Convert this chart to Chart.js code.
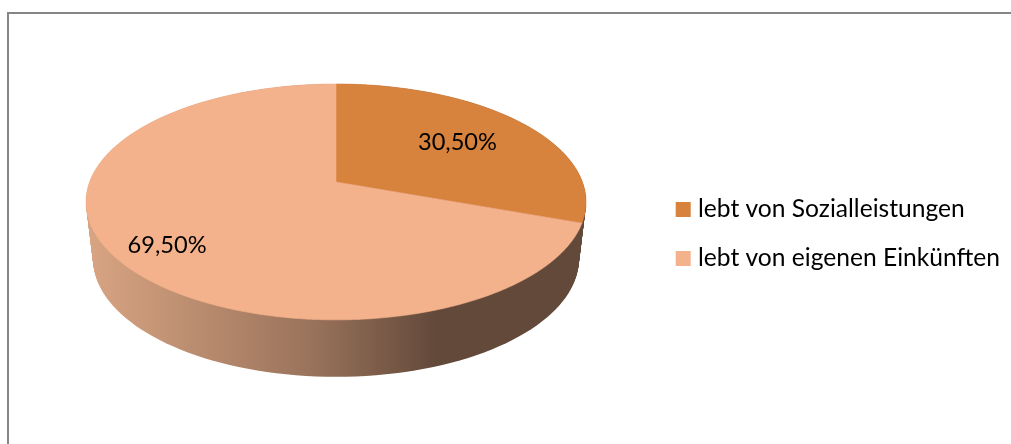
<!DOCTYPE html>
<html>
<head>
<meta charset="utf-8">
<script src="https://cdn.jsdelivr.net/npm/chart.js@4"></script>
<style>
    html, body { margin: 0; padding: 0; background: #fff; overflow: hidden; }
    #frame { position: absolute; left: 7px; top: 12px; right: -5px; bottom: -5px; border: 2px solid #868686; box-sizing: border-box; }
    canvas { position: absolute; left: 0; top: 0; }
</style>
</head>
<body>
<div id="frame"></div>
<canvas id="chart" width="1011" height="444"></canvas>
<script>
const categories = ['lebt von Sozialleistungen', 'lebt von eigenen Einkünften'];
const shares = [30.5, 69.5];
const sliceColors = ['#d7823d', '#f4b28c'];

// Perspective of the tilted disc: where a point of the unit circle lands on screen
const disc = { cx: 336, cy: 182, a: 246.4, b: 83.8, k: -0.169, depth: 57 };

function project(r, angle, shrink = 1, dy = 0) {
    const u = r * Math.cos(angle);
    const v = r * Math.sin(angle);
    const w = 1 + disc.k * v;
    return {
        x: disc.cx + shrink * disc.a * u / w,
        y: (disc.cy + disc.b * v) / w + dy
    };
}

const tiltedPie = {
    id: 'tiltedPie',
    beforeDatasetDraw(chart, args, opts) {
        const ctx = chart.ctx;
        const arcs = chart.getDatasetMeta(args.index).data;

        // Side wall: the rim swept downwards
        const side = ctx.createLinearGradient(86, 0, 586, 0);
        side.addColorStop(0, '#d9a583');
        side.addColorStop(0.45, '#9a735b');
        side.addColorStop(0.7, '#63493a');
        side.addColorStop(1, '#63493a');
        ctx.save();
        ctx.fillStyle = side;
        for (let d = disc.depth; d >= 0; d--) {
            const shrink = 1 - 0.028 * d / disc.depth;
            ctx.beginPath();
            for (let deg = 0; deg < 360; deg += 2) {
                const p = project(1, deg * Math.PI / 180, shrink, d);
                ctx.lineTo(p.x, p.y);
            }
            ctx.closePath();
            ctx.fill();
        }

        // Top face, one path per arc of the library
        arcs.forEach((arc, i) => {
            const steps = Math.ceil((arc.endAngle - arc.startAngle) / 0.01);
            const c = project(0, 0);
            ctx.beginPath();
            ctx.moveTo(c.x, c.y);
            for (let s = 0; s <= steps; s++) {
                const p = project(1, arc.startAngle + (arc.endAngle - arc.startAngle) * s / steps);
                ctx.lineTo(p.x, p.y);
            }
            ctx.closePath();
            ctx.fillStyle = sliceColors[i];
            ctx.strokeStyle = sliceColors[i];
            ctx.lineWidth = 0.6;
            ctx.fill();
            ctx.stroke();
        });

        // Value labels
        ctx.fillStyle = '#000';
        ctx.font = opts.font;
        ctx.textAlign = 'center';
        ctx.textBaseline = 'middle';
        arcs.forEach((arc, i) => {
            const [r, dy] = opts.labelPlaces[i];
            const p = project(r, (arc.startAngle + arc.endAngle) / 2, 1, dy);
            ctx.fillText(shares[i].toFixed(2).replace('.', ',') + '%', p.x, p.y);
        });
        ctx.restore();
        return false;
    }
};

new Chart(document.getElementById('chart'), {
    type: 'pie',
    data: {
        labels: categories,
        datasets: [{ data: shares, backgroundColor: sliceColors, borderWidth: 0 }]
    },
    plugins: [tiltedPie],
    options: {
        responsive: false,
        animation: false,
        events: [],
        layout: { padding: { top: 24, right: 1 } },
        plugins: {
            tooltip: { enabled: false },
            title: { display: false },
            tiltedPie: {
                font: '23.6px Lato',
                labelPlaces: [[0.64, 0], [0.775, 8]]
            },
            legend: {
                position: 'right',
                labels: {
                    font: { family: 'Lato', size: 24.6 },
                    color: '#000',
                    // the narrow box width keeps the text close to the square
                    usePointStyle: true,
                    pointStyle: 'rect',
                    boxWidth: 5,
                    boxHeight: 15,
                    padding: 24.4
                }
            }
        }
    }
});
</script>
</body>
</html>
